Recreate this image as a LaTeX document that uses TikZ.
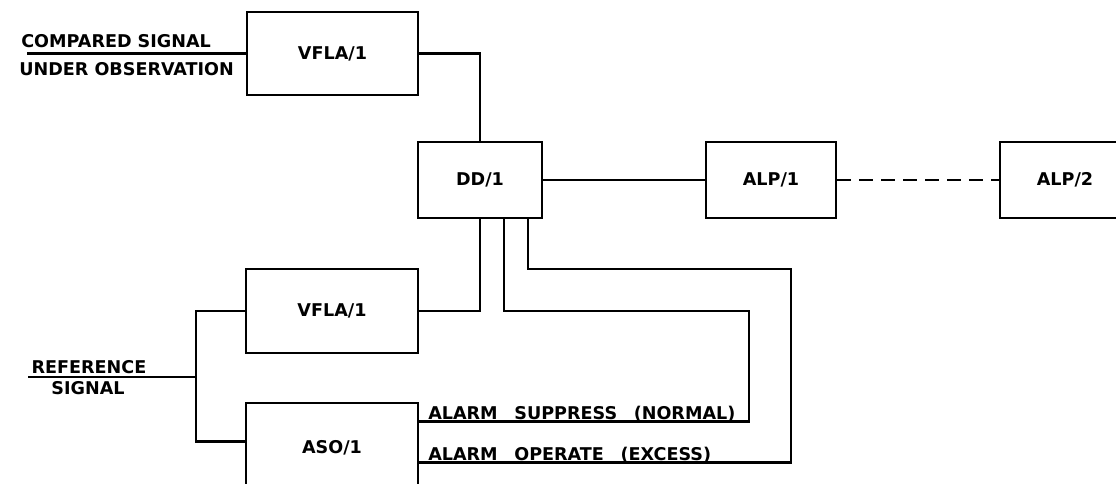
\documentclass[tikz,border=0pt]{standalone}
\usepackage{fontspec}
\setmainfont{DejaVu Sans}
\usetikzlibrary{positioning,calc}

\begin{document}
\begin{tikzpicture}[x=0.025cm, y=-0.025cm,
    blk/.style={draw, line width=1.8pt, inner sep=0pt,
                font=\fontsize{12.5}{14}\selectfont\bfseries},
    wire/.style={line width=1.8pt},
    lbl/.style={inner sep=0pt, font=\fontsize{12.5}{14}\selectfont\bfseries}]

  \useasboundingbox (0,0) rectangle (1116,483);
  \clip (0,0) rectangle (1116,483);

  %--- Blocks
  \node[blk, minimum width=4.275cm, minimum height=2.075cm] (vflaTop) at (332.5,53.5) {VFLA/1};
  \node[blk, minimum width=3.1cm, minimum height=1.9cm] (dd) at (480,180) {DD/1};
  \node[blk, minimum width=3.25cm, minimum height=1.9cm] (alpA) at (771,180) {ALP/1};
  \node[blk, minimum width=3.25cm, minimum height=1.9cm] (alpB) at (1065,180) {ALP/2};
  \node[blk, minimum width=4.3cm, minimum height=2.1cm] (vflaBot) at (332,311) {VFLA/1};
  \node[blk, minimum width=4.3cm, minimum height=2.25cm] (aso) at (332,448) {ASO/1};

  %--- Compared signal input
  \coordinate (cmpIn) at (27,53.5);
  \draw[wire] (cmpIn) -- (vflaTop.west);
  \node[lbl, anchor=base west] (cmpTxt) at (21,47) {COMPARED SIGNAL};
  \node[lbl, anchor=base west] (obsTxt) at (19,75) {UNDER OBSERVATION};

  %--- Main chain
  \draw[wire] (vflaTop.east) -| (dd.north);
  \draw[wire] (dd.east) -- (alpA.west);
  \draw[wire, dash pattern=on 0.35cm off 0.2cm] (alpA.east) -- (alpB.west);

  %--- Returns from DD/1
  \coordinate (supTurn) at (749,311);
  \coordinate (opTurn) at (791,269);
  \coordinate (supIn) at ($(aso.north east)+(0,20)$);
  \coordinate (opIn) at ($(aso.north east)+(0,61)$);
  \draw[wire] (dd.south) |- (vflaBot.east);
  \draw[wire] ($(dd.south)+(24,0)$) |- (supTurn) |- (supIn);
  \draw[wire] ($(dd.south)+(48,0)$) |- (opTurn) |- (opIn);
  \node[lbl, anchor=base west] (supTxt) at (428,419)
    {ALARM\hspace{0.6em} SUPPRESS\hspace{0.6em} (NORMAL)};
  \node[lbl, anchor=base west] (opTxt) at (428,460)
    {ALARM\hspace{0.6em} OPERATE\hspace{0.6em} (EXCESS)};

  %--- Reference signal
  \coordinate (refIn) at (28,377);
  \coordinate (refJ) at (196,377);
  \coordinate (asoIn) at ($(aso.north west)+(0,40)$);
  \draw[wire] (refIn) -- (refJ);
  \draw[wire] (vflaBot.west) -| (refJ) |- (asoIn);
  \node[lbl, anchor=base] (refTxt) at (89,373) {REFERENCE};
  \node[lbl, anchor=base] (sigTxt) at (88,394) {SIGNAL};

\end{tikzpicture}
\end{document}
